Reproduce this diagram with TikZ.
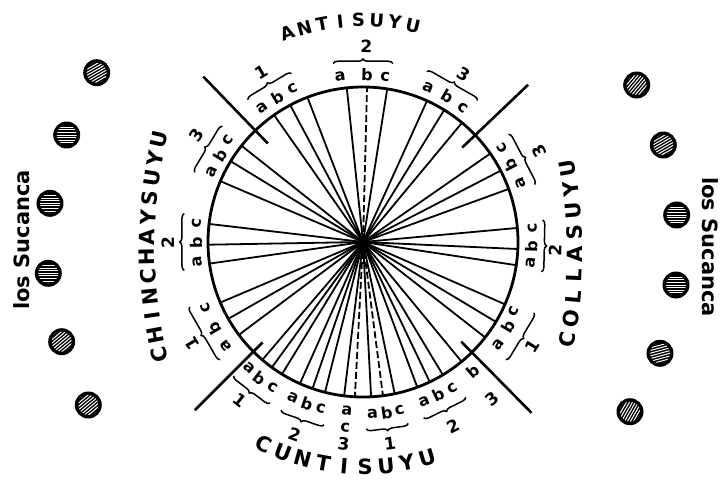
\documentclass[tikz,border=0pt]{standalone}
\usepackage{fontspec}
\setmainfont{DejaVu Sans}
\usetikzlibrary{decorations.pathreplacing,calc}
\begin{document}
\begin{tikzpicture}[x=1pt,y=1pt,
  every node/.style={inner sep=0pt},
  spoke/.style={line width=1.8pt},
  dspoke/.style={line width=1.8pt, dash pattern=on 7pt off 3pt},
  diag/.style={line width=2.6pt},
  rim/.style={line width=2.8pt},
  brc/.style={decorate, decoration={brace, amplitude=4.5pt}, line width=1.5pt},
  lab/.style={font=\fontsize{16}{16}\selectfont\bfseries},
  num/.style={font=\fontsize{17}{17}\selectfont\bfseries},
  suyuA/.style={font=\fontsize{18}{18}\selectfont\bfseries},
  suyuB/.style={font=\fontsize{21}{21}\selectfont\bfseries},
  suca/.style={font=\fontsize{21}{21}\selectfont\bfseries},
]
\useasboundingbox (-363,-238) rectangle (361,242);
\coordinate (O) at (0,0);
\coordinate (CHc) at (266,-5);
\coordinate (COc) at (-288,-12);
% spokes
\foreach \a in {125,118,111,96,81,65.6,58.4,50.3,
                34.8,27.4,20,5.2,-2.6,-8.6,-23.7,-31,-38,
                141.6,148.6,156.9,173.3,181,188,203,209.7,216.8,
                229.5,234,238.5,246,251,255.8,263,273,281.8,290.5,295.5,301,309.5}
  \draw[spoke] (O) -- (\a:155);
\foreach \a in {88.5,267,277.4}
  \draw[dspoke] (O) -- (\a:155);
% rim
\draw[rim] (O) circle (155);
% diagonals
\draw[diag] (134:137) -- (134:230);
\draw[diag] (43.6:137) -- (43.6:228);
\draw[diag] (225:142) -- (225:238);
\draw[diag] (314.6:140) -- (314.6:240);
% labels, tops outward
\foreach \a/\r/\t [count=\i] in {126.8/168/a,120.7/168/b,114.7/169/c,97.9/167/a,88.6/167/b,82.4/167/c,67.2/168/a,59.9/168/b,53.3/167/c,
  155.1/167/a,148.7/167/b,142.9/169/c,186.9/167/a,180.3/167/b,173.4/167/c,217.3/172/a,210.4/172/b,202.7/171/c}
  \node[lab, rotate=\a-90] (lo\i) at (\a:\r) {\t};
\foreach \a/\r/\t [count=\i] in {120.7/198/1,89/196/2,59/196/3,147.2/198/3,180.3/195/2,210.6/199/1}
  \node[num, rotate=\a-90] (no\i) at (\a:\r) {\t};
% labels, tops inward
\foreach \a/\r/\t [count=\i] in {20.6/168/a,27.6/166/b,34.1/168/c,-7.1/169/a,-1.7/169/b,4.7/170/c,-37.3/170/a,-30.4/168/b,-24.8/166/c,
  228/170/a,233/171/b,238/171/c,245.8/171/a,250.9/171/b,255.8/172/c,264.5/169/a,264.5/186/c,
  273.2/172/a,277.9/172/b,282.3/172/c,290.9/171/a,296.2/170/b,301.4/171/c,310.4/170/b}
  \node[lab, rotate=\a+90] (li\i) at (\a:\r) {\t};
\foreach \a/\r/\t [count=\i] in {27.2/198/3,-2.4/193/2,-31.7/199/1,232.1/201/1,250.4/204/2,264.5/203/3,277.6/203/1,296/205/2,309.5/203/3}
  \node[num, rotate=\a+90] (ni\i) at (\a:\r) {\t};
% braces
\foreach \p/\q/\r in {129/113/183,99.5/80.5/181,69.5/51/182,
  157.5/140.5/182,189/171/181,219.5/200.5/185,
  36.5/18.5/181,7/-9.5/181,-22.5/-39.5/185,
  240/226/186,258/244/187,284/271/187,303.5/289/186}
  \draw[brc] (\p:\r) -- (\q:\r);
% suyu names
\foreach \ch [count=\i] in {A,N,T,I,S,U,Y,U}{
  \pgfmathsetmacro\ang{110-(\i-1)*4.714}
  \node[suyuA, rotate=\ang-90] (an\i) at (\ang:222) {\ch};
}
\foreach \ch [count=\i] in {C,U,N,T,I,S,U,Y,U}{
  \pgfmathsetmacro\ang{243.8+(\i-1)*5.35}
  \node[suyuB, rotate=\ang+90] (cu\i) at (\ang:225) {\ch};
}
\foreach \ch [count=\i] in {C,H,I,N,C,H,A,Y,S,U,Y,U}{
  \pgfmathsetmacro\ang{192.9-(\i-1)*2.345}
  \node[suyuB, rotate=\ang-90] (ch\i) at ($(CHc)+(\ang:482)$) {\ch};
}
\foreach \ch [count=\i] in {C,O,L,L,A,S,U,Y,U}{
  \pgfmathsetmacro\ang{-9.9+(\i-1)*2.475}
  \node[suyuB, rotate=\ang+90] (co\i) at ($(COc)+(\ang:500)$) {\ch};
}
% los Sucanca
\node[suca, rotate=90] (sucL) at (-341,2) {los Sucanca};
\node[suca, rotate=-90] (sucR) at (347,-5) {los Sucanca};
% hatched discs
\foreach \x/\y/\h in {-266.3/169.3/30,-296.3/107/0,-313/38.7/0,-314.7/-31.3/0,-301.3/-99.7/40,-274.7/-163/40,
  273.7/157/50,300.3/97/30,313.7/27/0,313/-43/0,297/-111.3/15,267/-169.7/60}{
  \fill (\x,\y) circle (13.5);
  \begin{scope}
    \clip (\x,\y) circle (10);
    \foreach \k in {-4,...,4}
      \draw[white, line width=1pt, rotate around={\h:(\x,\y)}] (\x-12,\y+\k*2.6) -- (\x+12,\y+\k*2.6);
  \end{scope}
}
\end{tikzpicture}
\end{document}
